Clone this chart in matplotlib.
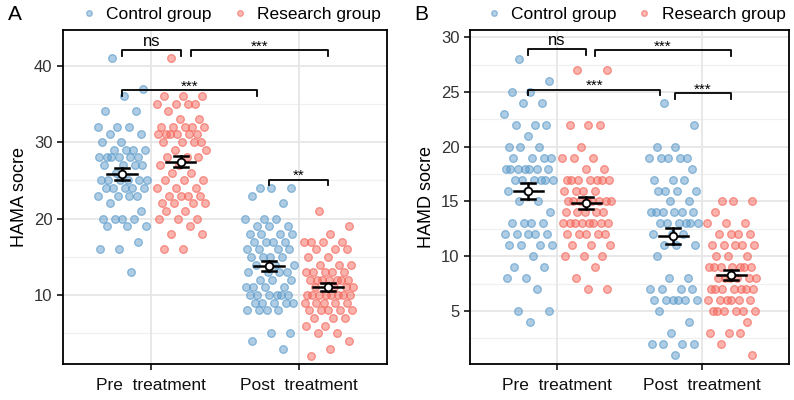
import numpy as np
import matplotlib
matplotlib.use('Agg')
import matplotlib.pyplot as plt
from matplotlib.lines import Line2D

plt.rcParams['font.family'] = ['Liberation Sans', 'DejaVu Sans']

# ## Data (scores)
stages = ['Pre  treatment', 'Post  treatment']

hama_ctrl_pre = [41, 37, 36, 34, 34, 32, 32, 32, 31, 31, 30, 30, 29, 29, 29, 29,
                 28, 28, 28, 28, 28, 28, 27, 27, 27, 27, 26, 25, 25, 25, 25, 25, 25,
                 24, 24, 24, 24, 24, 23, 23, 23, 23, 22, 21, 20, 20, 20, 20,
                 19, 19, 19, 17, 16, 16, 13]
hama_res_pre = [41, 36, 36, 36, 35, 35, 35, 35, 34, 33, 33, 32, 32, 32, 32, 32,
                31, 31, 31, 31, 31, 31, 30, 30, 30, 30, 29, 29, 28, 28, 28, 27, 27,
                26, 26, 25, 25, 25, 24, 24, 24, 23, 23, 23, 23, 22, 22, 22, 22,
                21, 21, 20, 20, 20, 19, 18, 18, 16, 16]
hama_ctrl_post = [24, 24, 24, 23, 22, 20, 20, 20, 19, 19, 19, 18, 18, 18, 18,
                  17, 17, 17, 17, 16, 16, 16, 16, 15, 15, 15, 15, 14, 14, 14,
                  13, 13, 13, 13, 12, 12, 12, 11, 11, 11, 11, 10, 10, 10, 10, 10, 10,
                  9, 9, 9, 9, 9, 8, 8, 8, 8, 5, 5, 4, 3]
hama_res_post = [21, 19, 18, 17, 17, 17, 17, 16, 16, 16, 15, 15, 14, 14, 14,
                 13, 13, 13, 13, 13, 12, 12, 12, 12, 12, 12, 12, 11, 11, 11, 11,
                 10, 10, 10, 10, 10, 10, 10, 10, 9, 9, 9, 9, 9, 8, 8, 8, 8, 8,
                 7, 7, 7, 6, 6, 5, 5, 4, 3, 2]

hamd_ctrl_pre = [28, 26, 25, 25, 24, 24, 23, 22, 22, 22, 21, 20, 20, 20,
                 19, 19, 19, 19, 18, 18, 18, 18, 18, 18, 18, 17, 17, 17, 17, 17, 17,
                 16, 16, 15, 15, 14, 13, 13, 13, 13, 12, 12, 12, 12, 12,
                 11, 11, 11, 11, 10, 9, 9, 8, 8, 7, 5, 5, 4]
hamd_res_pre = [27, 27, 22, 22, 22, 20, 19, 19, 19, 18, 18, 17, 17, 17, 17, 17, 17, 17,
                16, 16, 16, 16, 15, 15, 15, 15, 15, 15, 15, 15, 14, 14, 14, 14, 14,
                13, 13, 13, 13, 13, 13, 13, 13, 12, 12, 12, 12, 12,
                11, 11, 11, 10, 10, 10, 9, 8, 7, 7]
hamd_ctrl_post = [24, 22, 20, 20, 19, 19, 19, 19, 19, 18, 17, 17, 17, 16, 16, 16, 16,
                  15, 15, 14, 14, 14, 14, 14, 14, 13, 13, 13, 13, 13, 13, 12, 12, 12,
                  11, 11, 11, 10, 8, 8, 7, 7, 7, 7, 6, 6, 6, 6, 6, 6, 5, 4, 3,
                  2, 2, 2, 2, 1]
hamd_res_post = [15, 15, 15, 14, 13, 13, 13, 12, 12, 12, 12, 11, 11, 11, 11, 11,
                 10, 10, 10, 9, 9, 9, 9, 9, 9, 9, 8, 8, 8, 8, 8, 8, 7, 7, 7, 7, 7, 7, 7,
                 6, 6, 6, 6, 6, 6, 5, 5, 5, 5, 5, 5, 4, 3, 3, 3, 2, 1]

panels = [
    dict(tag='A', ylabel='HAMA socre', ylim=(1.0, 44.7), yticks=[10, 20, 30, 40],
         ctrl=[hama_ctrl_pre, hama_ctrl_post], res=[hama_res_pre, hama_res_post],
         # (x1, x2, y, label)
         sig=[(0.8, 1.2, 42.0, 'ns'), (1.27, 2.2, 42.0, '***'),
              (0.8, 1.72, 36.8, '***'), (1.8, 2.2, 25.1, '**')], leg=0.75),
    dict(tag='B', ylabel='HAMD socre', ylim=(0.15, 30.7), yticks=[5, 10, 15, 20, 25, 30],
         ctrl=[hamd_ctrl_pre, hamd_ctrl_post], res=[hamd_res_pre, hamd_res_post],
         sig=[(0.8, 1.2, 28.9, 'ns'), (1.26, 2.2, 28.8, '***'),
              (0.8, 1.71, 25.2, '***'), (1.81, 2.2, 24.9, '***')], leg=0.5),
]

c_blue = '#5E9CCB'
c_red = '#F4675B'

fig = plt.figure(figsize=(7.94, 4.0), dpi=100)
rects = [[0.0793, 0.09, 0.408, 0.836], [0.592, 0.09, 0.402, 0.836]]


def jitter(n, width=0.34):
    # deterministic spread of the dots inside each group
    return ((np.arange(n) * 0.618034 + 0.31) % 1.0 - 0.5) * width


for p, rect in zip(panels, rects):
    ax = fig.add_axes(rect)
    ax.set_xlim(0.4, 2.6)
    ax.set_ylim(*p['ylim'])

    # grid (ggplot-like)
    for yy in p['yticks']:
        ax.axhline(yy, color='#E6E6E6', lw=1.3, zorder=0)
    step = p['yticks'][1] - p['yticks'][0]
    for yy in np.arange(p['yticks'][0] - step / 2, p['ylim'][1], step):
        ax.axhline(yy, color='#F0F0F0', lw=0.9, zorder=0)
    for xx in [1, 2]:
        ax.axvline(xx, color='#E6E6E6', lw=1.3, zorder=0)

    for i in range(2):
        for vals, off, col in [(p['ctrl'][i], -0.2, c_blue), (p['res'][i], 0.2, c_red)]:
            v = np.array(vals, dtype=float)
            xc = i + 1 + off
            ax.scatter(xc + jitter(len(v)), v, s=30, facecolor=matplotlib.colors.to_rgba(col, 0.5),
                       edgecolor=matplotlib.colors.to_rgba(col, 0.7), linewidth=0.9, zorder=2)
            m = v.mean()
            se = v.std(ddof=1) / np.sqrt(len(v))
            ax.plot([xc - 0.1, xc + 0.1], [m, m], color='black', lw=1.8, zorder=3)
            ax.plot([xc, xc], [m - se, m + se], color='black', lw=1.8, zorder=3)
            for yy in (m - se, m + se):
                ax.plot([xc - 0.048, xc + 0.048], [yy, yy], color='black', lw=1.8, zorder=3)
            ax.plot(xc, m, 'o', ms=5.5, mfc='white', mec='black', mew=1.3, zorder=4)

    # significance brackets
    for x1, x2, y, lab in p['sig']:
        ax.plot([x1, x1, x2, x2], [y - p['leg'], y, y, y - p['leg']], color='black', lw=1.3,
                zorder=5, clip_on=False)
        if lab == 'ns':
            ax.annotate(lab, ((x1 + x2) / 2, y), xytext=(0, 1.0), textcoords='offset points',
                        ha='center', va='bottom', fontsize=12)
        else:
            ax.annotate(lab, ((x1 + x2) / 2, y), xytext=(0, -2.5), textcoords='offset points',
                        ha='center', va='bottom', fontsize=11)

    ax.set_xticks([1, 2])
    ax.set_xticklabels(stages, fontsize=12.5, color='#111111')
    ax.set_yticks(p['yticks'])
    ax.tick_params(axis='y', labelsize=12, labelcolor='#333333', length=4, width=1.1)
    ax.tick_params(axis='x', length=4, width=1.1, pad=6)
    ax.set_ylabel(p['ylabel'], fontsize=13, labelpad=4)
    for s in ax.spines.values():
        s.set_linewidth(1.3)

    handles = [Line2D([], [], ls='none', marker='o', ms=4, mfc=matplotlib.colors.to_rgba(c_blue, 0.45),
                      mec=matplotlib.colors.to_rgba(c_blue, 0.6), label='Control group'),
               Line2D([], [], ls='none', marker='o', ms=4, mfc=matplotlib.colors.to_rgba(c_red, 0.45),
                      mec=matplotlib.colors.to_rgba(c_red, 0.6), label='Research group')]
    ax.legend(handles=handles, loc='lower center', bbox_to_anchor=(0.52, 1.0), ncol=2, frameon=False,
              fontsize=12.5, handlelength=0.8, handletextpad=0.6, columnspacing=1.2,
              borderaxespad=0.05)

    fig.text(rect[0] - 0.061, 0.965, p['tag'], fontsize=15, ha='center', va='center')

fig.savefig('out.png', dpi=100)
